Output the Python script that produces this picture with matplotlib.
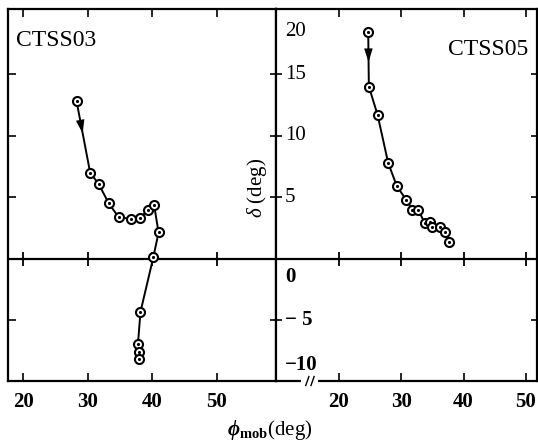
import numpy as np
import matplotlib.pyplot as plt
import matplotlib.transforms as mtransforms

plt.rcParams['font.family'] = ['Liberation Serif', 'DejaVu Serif']
plt.rcParams['mathtext.fontset'] = 'custom'
plt.rcParams['mathtext.rm'] = 'Liberation Serif'
plt.rcParams['mathtext.it'] = 'Liberation Serif:italic'
plt.rcParams['mathtext.bf'] = 'Liberation Serif:bold'
plt.rcParams['mathtext.bfit'] = 'Liberation Serif:italic:bold'

# CTSS03 path (phi_mob, delta)
phi_03 = [28.3, 30.4, 31.7, 33.3, 34.8, 36.7, 38.1, 39.4, 40.3, 41.0, 40.2,
          38.2, 37.8, 37.9, 38.0]
delta_03 = [12.8, 7.0, 6.1, 4.5, 3.4, 3.25, 3.3, 4.0, 4.4, 2.15, 0.15,
            -4.3, -6.95, -7.6, -8.15]

# CTSS05 path
phi_05 = [24.7, 24.8, 26.2, 27.9, 29.3, 30.8, 31.8, 32.7, 33.8, 34.6, 35.0,
          36.3, 37.1, 37.7]
delta_05 = [18.4, 14.0, 11.7, 7.8, 5.9, 4.8, 4.0, 4.0, 2.9, 3.0, 2.55,
            2.55, 2.2, 1.35]

xticks = [20, 30, 40, 50]
yticks_up = [5, 10, 15]
yticks_down = [-5]
ytick_labels = [20, 15, 10, 5, 0, -5, -10]

W, H = 538, 441
fig = plt.figure(figsize=(W / 100, H / 100), dpi=100)
ax1 = fig.add_axes([8 / W, 60 / H, 268 / W, 372 / H])
ax2 = fig.add_axes([276 / W, 60 / H, 261 / W, 372 / H])

ylim = (-9.92, 20.3)
ax1.set_xlim(17.67, 59.2)
ax2.set_xlim(9.89, 51.8)

for ax in (ax1, ax2):
    ax.set_ylim(*ylim)
    for s in ax.spines.values():
        s.set_linewidth(1.6)
    ax.set_xticks(xticks)
    ax.set_xticklabels([str(t) for t in xticks], fontsize=15, fontweight='bold')
    ax.tick_params(axis='x', direction='in', top=True, bottom=True,
                   length=6, width=1.2, pad=8)
    # zero line with crossing ticks
    ax.axhline(0, color='k', lw=1.6, zorder=1)
    ax.plot(xticks, np.zeros(len(xticks)), '|', color='k', ms=10, mew=1.3,
            zorder=1, clip_on=False)

ax1.set_yticks(yticks_up + yticks_down)
ax1.set_yticklabels([])
ax1.tick_params(axis='y', direction='in', left=True, right=False,
                length=6, width=1.2)
ax2.set_yticks(yticks_up + yticks_down)
ax2.set_yticklabels([])
ax2.tick_params(axis='y', direction='inout', left=True, right=True,
                length=9, width=1.2)


def draw_path(ax, xs, ys, head_frac):
    ax.plot(xs, ys, '-', color='k', lw=1.4, zorder=2)
    ax.plot(xs, ys, 'o', ms=6.5, mfc='white', mec='k', mew=1.5, zorder=3)
    ax.plot(xs, ys, '.', ms=2.5, color='k', zorder=4)
    # arrowhead on first segment
    x0, y0, x1, y1 = xs[0], ys[0], xs[1], ys[1]
    tip = (x0 + (x1 - x0) * head_frac, y0 + (y1 - y0) * head_frac)
    tail = (x0 + (x1 - x0) * (head_frac - 0.2), y0 + (y1 - y0) * (head_frac - 0.2))
    ax.annotate('', xy=tip, xytext=tail,
                arrowprops=dict(arrowstyle='-|>,head_length=0.9,head_width=0.28',
                                mutation_scale=11, color='k', lw=0,
                                shrinkA=0, shrinkB=0), zorder=5)


draw_path(ax1, phi_03, delta_03, 0.45)
draw_path(ax2, phi_05, delta_05, 0.55)

ax1.text(0.03, 0.915, 'CTSS03', transform=ax1.transAxes, fontsize=17,
         ha='left', va='center')
ax2.text(0.965, 0.89, 'CTSS05', transform=ax2.transAxes, fontsize=17,
         ha='right', va='center')

# y tick labels drawn along the middle axis
label_shift = {20: -1.5, 0: -1.45, -10: 1.35}
trans = mtransforms.blended_transform_factory(ax2.transAxes, ax2.transData)
for v in ytick_labels:
    txt = str(v).replace('-', '\u2212 ' if v == -5 else '\u2212')
    ax2.text(0.035, v + label_shift.get(v, 0), txt, transform=trans,
             fontsize=15, ha='left', va='center',
             fontweight='bold' if v <= 0 else 'normal')

ax1.text(0.93, 0.52, r'$\delta$ (deg)', transform=ax1.transAxes, fontsize=15,
         rotation=90, ha='center', va='center')

fig.text(270 / W, 1 - 430 / H, r'$\mathbfit{\phi}_{\mathbf{mob}}$(deg)',
         fontsize=15, ha='center', va='center')

# axis break mark on the right panel's bottom spine
bx = 0.13
ax2.plot([bx - 0.025, bx + 0.025], [0, 0], color='white', lw=3,
         transform=ax2.transAxes, clip_on=False, zorder=6)
for dx in (-0.01, 0.01):
    ax2.plot([bx + dx - 0.006, bx + dx + 0.006], [-0.012, 0.012], color='k',
             lw=1.0, transform=ax2.transAxes, clip_on=False, zorder=7)

fig.savefig('out.png', dpi=100)
